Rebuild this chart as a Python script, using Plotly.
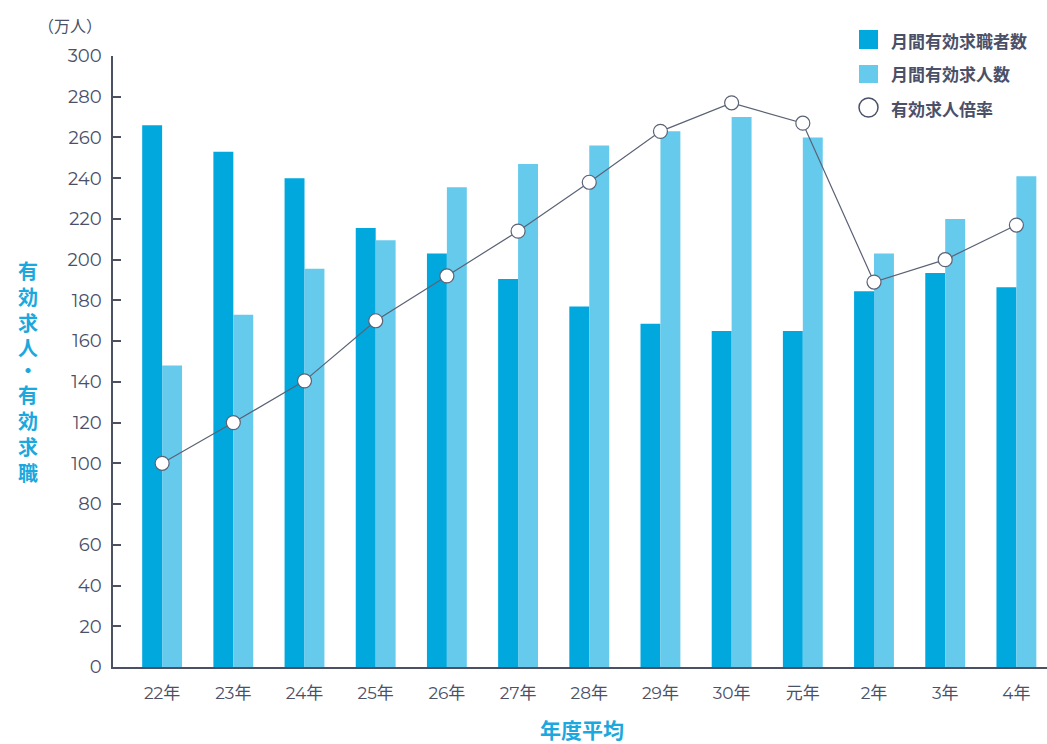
import plotly.graph_objects as go

categories = ["22年", "23年", "24年", "25年", "26年", "27年", "28年", "29年", "30年", "元年", "2年", "3年", "4年"]
job_seekers = [266, 253, 240, 215.5, 203, 190.5, 177, 168.5, 165, 165, 184.5, 193.5, 186.5]
job_openings = [148, 173, 195.5, 209.5, 235.5, 247, 256, 263, 270, 260, 203, 220, 241]
ratio_plot = [100, 120, 140.5, 170, 192, 214, 238, 263, 277, 267, 189, 200, 217]
y_ticks = list(range(0, 301, 20))
series_names = ["月間有効求職者数", "月間有効求人数", "有効求人倍率"]
y_title = "有効求人・有効求職"

xs = list(range(len(categories)))

DARK = "#00a8de"
LIGHT = "#66caec"
TEXT = "#4a5068"
BLUE = "#1aa8de"
LINE = "#5b6275"
FONT = "Montserrat, Inter, 'Noto Sans CJK JP', sans-serif"
CJK = "'Noto Sans CJK JP', sans-serif"

fig = go.Figure()
fig.add_trace(go.Bar(x=xs, y=job_seekers, name=series_names[0], marker=dict(color=DARK, line=dict(width=0))))
fig.add_trace(go.Bar(x=xs, y=job_openings, name=series_names[1], marker=dict(color=LIGHT, line=dict(width=0))))
fig.add_trace(go.Scatter(x=xs, y=ratio_plot, mode="lines+markers", name=series_names[2],
                         line=dict(color=LINE, width=1.2),
                         marker=dict(size=14, color="white", line=dict(color=LINE, width=1.2))))

fig.update_layout(
    width=1047, height=744,
    margin=dict(l=113, r=0, t=56, b=77),
    paper_bgcolor="white", plot_bgcolor="white",
    barmode="group", bargap=0.44, bargroupgap=0,
    font=dict(family=FONT, color=TEXT, size=16),
    showlegend=False,
)
fig.update_xaxes(range=[-0.69, 12.43], tickmode="array", tickvals=xs, ticktext=categories,
                 showline=True, linecolor="#4b5163", linewidth=1.5, ticks="",
                 showgrid=False, zeroline=False, tickfont=dict(size=17, color=TEXT), ticklabelstandoff=10)
fig.update_yaxes(range=[0, 300], tickmode="array", tickvals=y_ticks,
                 showline=True, linecolor="#4b5163", linewidth=1.5,
                 ticks="inside", ticklen=8, tickcolor="#4b5163", tickwidth=1.5,
                 showgrid=False, zeroline=False, tickfont=dict(size=18, color=TEXT), ticklabelstandoff=6)

def px_x(px):
    return (px - 113) / 934

def px_y(py):
    return (667 - py) / 611

# unit label
fig.add_annotation(text="（万人）", x=px_x(70), y=px_y(25), xref="paper", yref="paper", showarrow=False,
                   xanchor="center", yanchor="middle", font=dict(size=16, color=TEXT, family=CJK))

# vertical y-axis title, one character per annotation
char_py = [270, 296, 322, 347, 369, 394, 420, 446, 472]
for ch, py in zip(y_title, char_py):
    fig.add_annotation(text=f"<b>{ch}</b>", x=px_x(28), y=px_y(py), xref="paper", yref="paper",
                       showarrow=False, xanchor="center", yanchor="middle", height=22, valign="middle",
                       font=dict(size=20, color=BLUE, family=CJK))

# x-axis title
fig.add_annotation(text="<b>年度平均</b>", x=px_x(582), y=px_y(729), xref="paper", yref="paper", showarrow=False,
                   xanchor="center", yanchor="middle", font=dict(size=21, color=BLUE, family=CJK))

# custom legend
fig.add_shape(type="rect", xref="paper", yref="paper", x0=px_x(859), x1=px_x(878), y0=px_y(49), y1=px_y(30),
              fillcolor=DARK, line=dict(width=0))
fig.add_shape(type="rect", xref="paper", yref="paper", x0=px_x(859), x1=px_x(878), y0=px_y(83), y1=px_y(65),
              fillcolor=LIGHT, line=dict(width=0))
fig.add_shape(type="circle", xref="paper", yref="paper", x0=px_x(859), x1=px_x(878), y0=px_y(117), y1=px_y(98),
              fillcolor="white", line=dict(color=TEXT, width=1.5))
for name, py in zip(series_names, [40, 74, 108]):
    fig.add_annotation(text=f"<b>{name}</b>", x=px_x(889), y=px_y(py), xref="paper", yref="paper",
                       showarrow=False, xanchor="left", yanchor="middle",
                       font=dict(size=17, color=TEXT, family=CJK))

fig.write_html("out.html")
